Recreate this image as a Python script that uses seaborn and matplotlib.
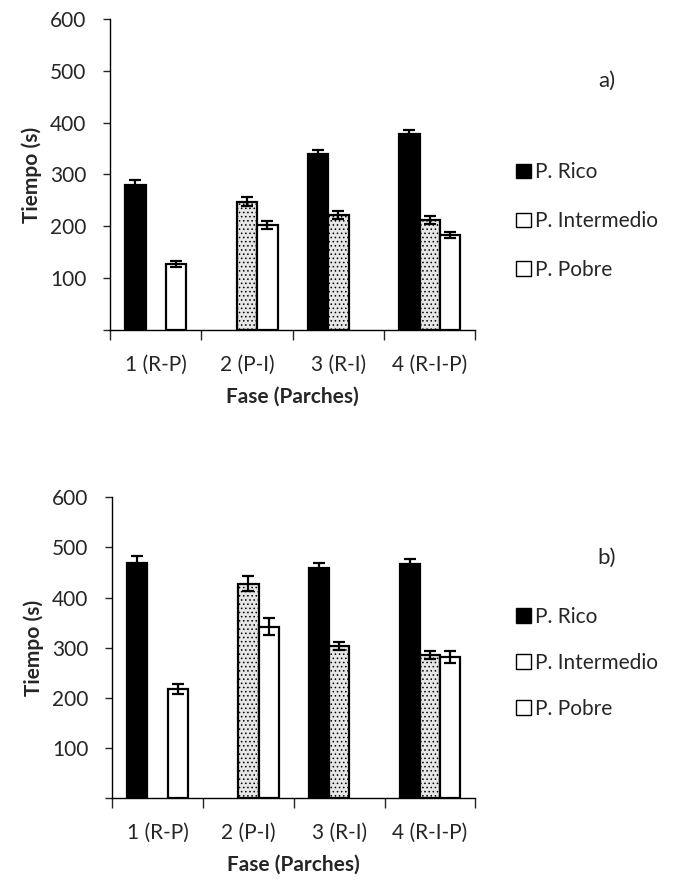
import numpy as np
import pandas as pd
import matplotlib
matplotlib.use("Agg")
import matplotlib.pyplot as plt
from matplotlib.patches import Patch
import seaborn as sns

fases = ["1 (R-P)", "2 (P-I)", "3 (R-I)", "4 (R-I-P)"]
parches = ["P. Rico", "P. Intermedio", "P. Pobre"]

# panel a
a_rico = [280, np.nan, 340, 378]
a_inter = [np.nan, 248, 222, 212]
a_pobre = [128, 203, np.nan, 183]
a_rico_err = [10, np.nan, 8, 8]
a_inter_err = [np.nan, 8, 7, 8]
a_pobre_err = [6, 8, np.nan, 6]

# panel b
b_rico = [470, np.nan, 460, 467]
b_inter = [np.nan, 428, 304, 285]
b_pobre = [217, 342, np.nan, 281]
b_rico_err = [12, np.nan, 10, 10]
b_inter_err = [np.nan, 15, 8, 8]
b_pobre_err = [10, 17, np.nan, 12]

sns.set_style("white")
plt.rcParams['font.family'] = ['Lato', 'DejaVu Sans']
plt.rcParams['hatch.linewidth'] = 0.6

fig = plt.figure(figsize=(6.84, 8.88), dpi=100)
ax_a = fig.add_axes([0.161, 0.628, 0.534, 0.351])
ax_b = fig.add_axes([0.164, 0.101, 0.531, 0.339])

styles = {
    "P. Rico": dict(fc="black", hatch=None),
    "P. Intermedio": dict(fc="#e6e6e6", hatch="...."),
    "P. Pobre": dict(fc="white", hatch=None),
}


def panel(ax, rico, inter, pobre, rerr, ierr, perr, tag, leg_y, leg_sp):
    rows = []
    errs = {}
    for lvl, vals, ev in zip(parches, [rico, inter, pobre], [rerr, ierr, perr]):
        for i, f in enumerate(fases):
            rows.append(dict(fase=f, tiempo=vals[i], parche=lvl))
            errs[(lvl, i)] = ev[i]
    df = pd.DataFrame(rows)
    sns.barplot(data=df, x="fase", y="tiempo", hue="parche", order=fases,
                hue_order=parches, palette=["black", "#e6e6e6", "white"],
                width=0.67, edgecolor="black", linewidth=1.6, errorbar=None,
                legend=False, ax=ax, saturation=1)
    for lvl, cont in zip(parches, ax.containers):
        for p in cont.patches:
            h = p.get_height()
            if not np.isfinite(h) or h == 0:
                continue
            p.set_facecolor(styles[lvl]["fc"])
            if styles[lvl]["hatch"]:
                p.set_hatch(styles[lvl]["hatch"])
            xc = p.get_x() + p.get_width() / 2
            ci = int(round(xc))
            e = errs[(lvl, ci)]
            ax.errorbar(xc, h, yerr=e, color="black", capsize=4.5,
                        elinewidth=1.6, capthick=1.6, fmt="none", zorder=5)
    ax.set_ylim(0, 600)
    ax.set_xlim(-0.5, 3.5)
    ax.set_yticks(range(0, 601, 100))
    ax.set_yticklabels([""] + [str(v) for v in range(100, 601, 100)])
    ax.set_xticks(range(4))
    ax.set_xticklabels(fases)
    ax.set_xticks([-0.5, 0.5, 1.5, 2.5, 3.5], minor=True)
    ax.tick_params(axis="x", which="major", length=0, pad=18, labelsize=15)
    ax.tick_params(axis="x", which="minor", length=7, width=1, direction="out", bottom=True)
    ax.tick_params(axis="y", length=5, width=1, direction="out", left=True, labelsize=15, pad=12)
    for s in ["top", "right"]:
        ax.spines[s].set_visible(False)
    for s in ["left", "bottom"]:
        ax.spines[s].set_color("black")
        ax.spines[s].set_linewidth(1.0)
    ax.set_ylabel("Tiempo (s)", fontsize=15, fontweight="bold", labelpad=6)
    ax.set_xlabel("Fase (Parches)", fontsize=15, fontweight="bold", labelpad=8)
    ax.text(1.36, 0.80, tag, transform=ax.transAxes, fontsize=16, ha="center", va="center")
    handles = [Patch(facecolor="black", edgecolor="black"),
               Patch(facecolor="white", edgecolor="black"),
               Patch(facecolor="white", edgecolor="black")]
    ax.legend(handles, parches, loc="center left", bbox_to_anchor=(1.06, leg_y),
              frameon=False, fontsize=15, handlelength=0.7, handleheight=0.7,
              handletextpad=0.2, labelspacing=leg_sp)


panel(ax_a, a_rico, a_inter, a_pobre, a_rico_err, a_inter_err, a_pobre_err, "a)", 0.35, 1.38)
panel(ax_b, b_rico, b_inter, b_pobre, b_rico_err, b_inter_err, b_pobre_err, "b)", 0.45, 1.25)

fig.savefig("out.png", dpi=100)
